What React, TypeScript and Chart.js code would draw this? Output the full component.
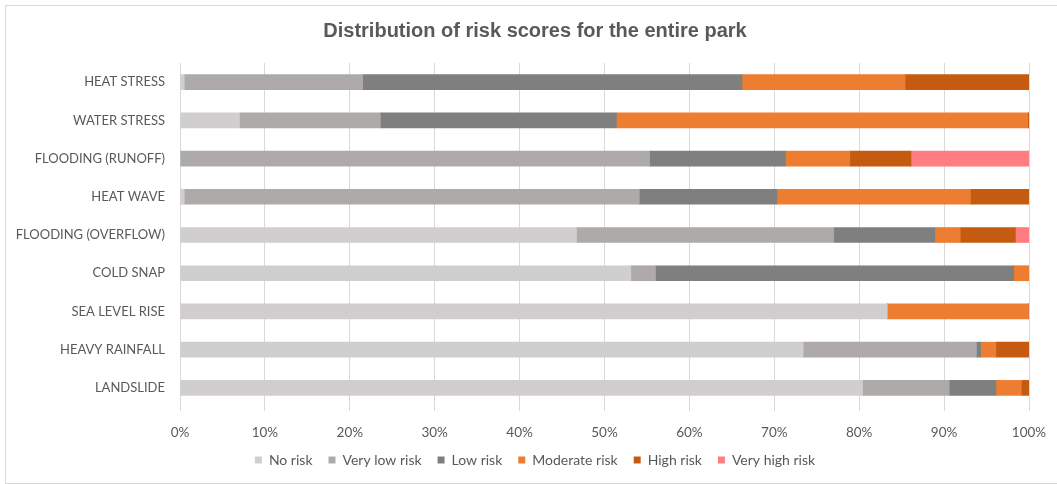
import React, { useEffect, useRef } from "react";
import { Chart, registerables } from "chart.js";

Chart.register(...registerables);

const categories = [
  "HEAT STRESS",
  "WATER STRESS",
  "FLOODING (RUNOFF)",
  "HEAT WAVE",
  "FLOODING (OVERFLOW)",
  "COLD SNAP",
  "SEA LEVEL RISE",
  "HEAVY RAINFALL",
  "LANDSLIDE",
];

const noRisk = [0.5, 7.0, 0, 0.5, 46.7, 53.1, 83.3, 73.4, 80.4];
const veryLowRisk = [21.0, 16.6, 55.3, 53.6, 30.3, 2.9, 0, 20.4, 10.2];
const lowRisk = [44.7, 27.8, 16.0, 16.2, 11.9, 42.2, 0, 0.5, 5.5];
const moderateRisk = [19.2, 48.45, 7.6, 22.8, 3.0, 1.8, 16.6, 1.8, 3.0];
const highRisk = [14.6, 0.15, 7.2, 6.9, 6.5, 0, 0, 3.9, 0.9];
const veryHighRisk = [0, 0, 13.9, 0, 1.6, 0, 0.1, 0, 0];

const seriesNames = ["No risk", "Very low risk", "Low risk", "Moderate risk", "High risk", "Very high risk"];
const seriesValues = [noRisk, veryLowRisk, lowRisk, moderateRisk, highRisk, veryHighRisk];
const seriesColors = ["#D0CECE", "#AEAAAA", "#7F7F7F", "#ED7D31", "#C55A11", "#FF7C80"];

const xTicks = [0, 10, 20, 30, 40, 50, 60, 70, 80, 90, 100];

const TEXT = "#595959";
const FONT = "Lato";

export default function App() {
  const ref = useRef<HTMLCanvasElement>(null);

  useEffect(() => {
    if (!ref.current) return;
    const chart = new Chart(ref.current, {
      type: "bar",
      data: {
        labels: categories,
        datasets: seriesNames.map((name, i) => ({
          label: name,
          data: seriesValues[i],
          backgroundColor: seriesColors[i],
          borderWidth: 0,
          barThickness: 15,
        })),
      },
      options: {
        indexAxis: "y",
        responsive: false,
        animation: false,
        layout: { padding: { left: 0, right: 0, top: 0, bottom: 6 } },
        plugins: {
          title: {
            display: true,
            text: "Distribution of risk scores for the entire park",
            color: TEXT,
            font: { family: "Liberation Sans", size: 20, weight: "bold" },
            padding: { top: 14, bottom: 20 },
          },
          legend: {
            position: "bottom",
            labels: {
              color: TEXT,
              font: { family: FONT, size: 14 },
              boxWidth: 7,
              boxHeight: 7,
              padding: 16,
            },
          },
          tooltip: { enabled: false },
        },
        scales: {
          x: {
            stacked: true,
            min: 0,
            max: 100,
            afterBuildTicks: (axis: any) => {
              axis.ticks = xTicks.map((v) => ({ value: v }));
            },
            afterFit: (axis: any) => {
              axis.height = 30;
            },
            ticks: {
              color: TEXT,
              font: { family: FONT, size: 13.5 },
              padding: 14,
              minRotation: 0,
              maxRotation: 0,
              autoSkip: false,
              callback: (v: any) => v + "%",
            },
            grid: { color: "#D9D9D9", lineWidth: 1, tickLength: 4, drawTicks: true },
            border: { display: false },
          },
          y: {
            stacked: true,
            afterFit: (axis: any) => {
              axis.width = 175;
            },
            ticks: {
              color: TEXT,
              font: { family: FONT, size: 13 },
              padding: 15,
            },
            grid: { display: false, drawTicks: false },
            border: { display: false },
          },
          rightSpacer: {
            type: "linear",
            position: "right",
            display: true,
            afterFit: (axis: any) => {
              axis.width = 36;
            },
            ticks: { display: false },
            grid: { display: false, drawTicks: false },
            border: { display: false },
          },
        },
      },
    });
    return () => chart.destroy();
  }, []);

  return (
    <div style={{ position: "fixed", left: 0, top: 0, width: 1057, height: 484, overflow: "hidden", background: "#fff" }}>
      <div
        style={{
          position: "absolute",
          left: 5,
          top: 5,
          width: 1060,
          height: 479,
          border: "1px solid #D9D9D9",
          boxSizing: "border-box",
        }}
      />
      <canvas ref={ref} width={1060} height={478} style={{ position: "absolute", left: 5, top: 5 }} />
    </div>
  );
}
